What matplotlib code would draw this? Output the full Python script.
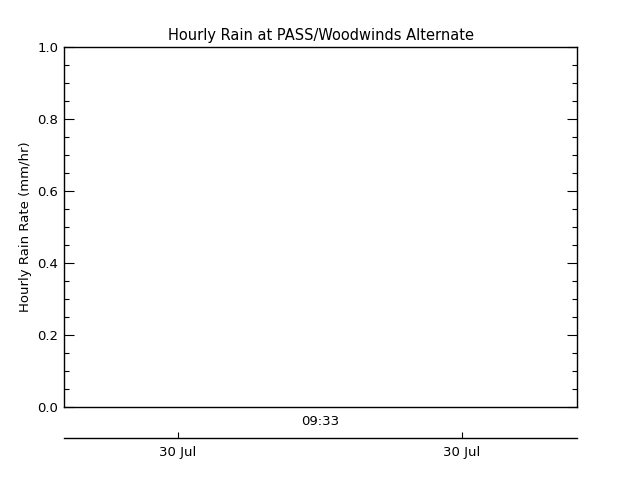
import matplotlib
matplotlib.use("Agg")
import matplotlib.pyplot as plt
from matplotlib.ticker import MultipleLocator

# chart data (no rain recorded)
rain_times = []
rain_rates = []
x_range = [0.0, 1.0]
y_range = [0.0, 1.0]
center_time_label = "09:33"
date_tick_pos = [0.222, 0.776]
date_tick_labels = ["30 Jul", "30 Jul"]

plt.rcParams['font.family'] = ['DejaVu Sans']
plt.rcParams['font.size'] = 9.5

fig = plt.figure(figsize=(6.4, 4.8), dpi=100)
ax = fig.add_axes([0.1, 0.152, 0.8016, 0.75])
ax.plot(rain_times, rain_rates, color='black', lw=1)
ax.set_xlim(x_range)
ax.set_ylim(y_range)
for s in ax.spines.values():
    s.set_linewidth(1)
ax.yaxis.set_major_locator(MultipleLocator(0.2))
ax.yaxis.set_minor_locator(MultipleLocator(0.05))
ax.yaxis.set_major_formatter(plt.FuncFormatter(lambda v, p: f"{v:.1f}"))
# tick lengths in points (10 px / 5 px at 100 dpi)
ax.tick_params(axis='y', which='major', direction='in', length=7.2, width=0.8,
               left=True, right=True, pad=4)
ax.tick_params(axis='y', which='minor', direction='in', length=3.9, width=0.8,
               left=True, right=True)
ax.set_xticks([0.5])
ax.set_xticklabels([center_time_label])
ax.tick_params(axis='x', length=0, pad=5.5)
ax.set_title("Hourly Rain at PASS/Woodwinds Alternate", fontsize=10.5, pad=5)
ax.set_ylabel("Hourly Rain Rate (mm/hr)", labelpad=4)

# date axis below
ax2 = fig.add_axes([0.1, 0.0875, 0.8016, 0.001])
ax2.set_xlim(x_range)
ax2.set_yticks([])
for k in ['top', 'left', 'right']:
    ax2.spines[k].set_visible(False)
ax2.spines['bottom'].set_linewidth(1)
ax2.set_xticks(date_tick_pos)
ax2.set_xticklabels(date_tick_labels)
ax2.tick_params(axis='x', direction='in', length=4.3, width=0.8, pad=5.5)
ax2.patch.set_visible(False)

fig.savefig("out.png", dpi=100)
